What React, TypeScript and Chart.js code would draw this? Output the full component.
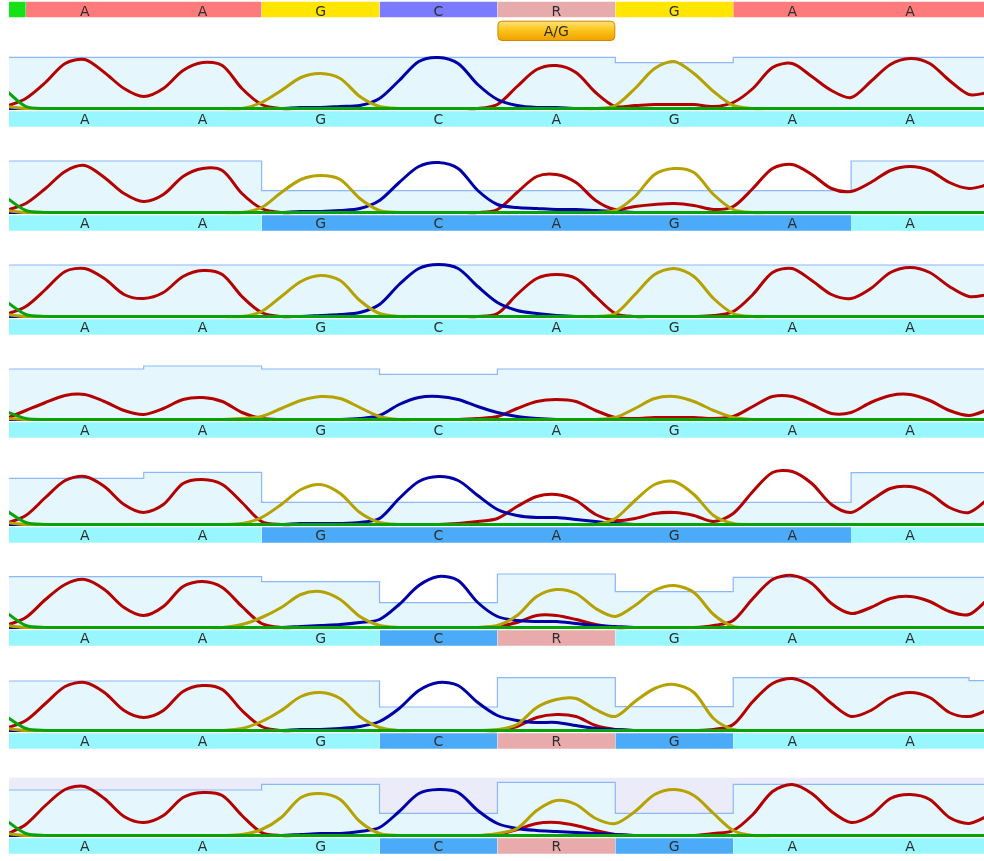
import React, { useEffect, useRef } from 'react';
import { Chart, registerables } from 'chart.js';

Chart.register(...registerables);

// ---------------- axis set-up (base units: base i centred on i) ----------------
const X_MIN = -0.6425;
const X_MAX = 7.627;
const SAMPLE_START = -4 / 6; // first trace sample
const SAMPLE_STEP = 1 / 6; // 6 trace samples per base
const FIRST_BASE = -1; // partial base at the left edge

// ---------------- header (consensus) ----------------
const headerCalls = ['', 'A', 'A', 'G', 'C', 'R', 'G', 'A', 'A', ''];
const headerColors = ['#16e016', '#ff7b7b', '#ff7b7b', '#ffe500', '#7b7bff', '#e8abab', '#ffe500', '#ff7b7b', '#ff7b7b', '#ff7b7b'];
const variantBase = 4;
const variantLabel = 'A/G';

// ---------------- per-track base calls / marks / quality ----------------
const callsPlain = ['', 'A', 'A', 'G', 'C', 'A', 'G', 'A', 'A', ''];
const callsHet = ['', 'A', 'A', 'G', 'C', 'R', 'G', 'A', 'A', ''];

const t1Marks = ['c', 'c', 'c', 'c', 'c', 'c', 'c', 'c', 'c', 'c'];
const t2Marks = ['c', 'c', 'c', 'b', 'b', 'b', 'b', 'b', 'c', 'c'];
const t3Marks = ['c', 'c', 'c', 'c', 'c', 'c', 'c', 'c', 'c', 'c'];
const t4Marks = ['c', 'c', 'c', 'c', 'c', 'c', 'c', 'c', 'c', 'c'];
const t5Marks = ['c', 'c', 'c', 'b', 'b', 'b', 'b', 'b', 'c', 'c'];
const t6Marks = ['c', 'c', 'c', 'c', 'b', 'p', 'c', 'c', 'c', 'c'];
const t7Marks = ['c', 'c', 'c', 'c', 'b', 'p', 'b', 'c', 'c', 'c'];
const t8Marks = ['c', 'c', 'c', 'c', 'b', 'p', 'b', 'c', 'c', 'c'];

const t1Quality = [51.2, 51.2, 51.2, 51.2, 51.2, 51.2, 45.8, 51.2, 51.2, 51.2];
const t2Quality = [51.5, 51.5, 51.5, 21.8, 21.8, 21.8, 21.8, 21.8, 51.5, 51.5];
const t3Quality = [51.5, 51.5, 51.5, 51.5, 51.5, 51.5, 51.5, 51.5, 51.5, 51.5];
const t4Quality = [50.5, 50.5, 53.5, 50.5, 45.2, 50.5, 50.5, 50.5, 50.5, 50.5];
const t5Quality = [46.2, 46.2, 52.2, 22.2, 22.2, 22.2, 22.2, 22.2, 51.8, 51.8];
const t6Quality = [50.8, 50.8, 50.8, 45.8, 24.8, 53.5, 35.8, 50.2, 50.2, 50.2];
const t7Quality = [49.5, 49.5, 49.5, 49.5, 23.5, 52.8, 23.8, 52.8, 52.8, 49.8];
const t8Quality = [45.5, 45.5, 45.5, 51.2, 22.2, 53.2, 22.2, 51.2, 51.2, 51.2];
const t8Shade = 57.8;

// ---------------- trace samples (A red, C blue, G olive, T green) ----------------
const t1A = [2, 10, 26, 45, 49, 36, 20, 12, 20, 38, 46, 43, 20, 4, 0, 0, 0, 0, 0, 0, 0, 0, 0, 0, 0, 4, 22, 39, 43, 36, 16, 2, 3, 4, 4, 4, 2, 6, 20, 41, 45, 32, 18, 11, 27, 44, 50, 45, 28, 14, 16];
const t1C = [0, 0, 0, 0, 0, 0, 0, 0, 0, 0, 0, 0, 0, 0, 0, 1, 1, 2, 3, 10, 28, 47, 51, 45, 24, 9, 3, 1, 1, 0, 0, 0, 0, 0, 0, 0, 0, 0, 0, 0, 0, 0, 0, 0, 0, 0, 0, 0, 0, 0, 0];
const t1G = [2, 0, 0, 0, 0, 0, 0, 0, 0, 0, 0, 0, 0, 6, 18, 31, 35, 30, 12, 2, 0, 0, 0, 0, 0, 0, 0, 0, 0, 0, 0, 3, 20, 40, 47, 35, 17, 3, 0, 0, 0, 0, 0, 0, 0, 0, 0, 0, 0, 0, 0];
const t1T = [18, 2, 0, 0, 0, 0, 0, 0, 0, 0, 0, 0, 0, 0, 0, 0, 0, 0, 0, 0, 0, 0, 0, 0, 0, 0, 0, 0, 0, 0, 0, 0, 0, 0, 0, 0, 0, 0, 0, 0, 0, 0, 0, 0, 0, 0, 0, 0, 0, 0, 0];

const t2A = [2, 9, 24, 41, 47, 35, 19, 11, 18, 36, 44, 42, 19, 4, 0, 0, 0, 0, 0, 0, 0, 0, 0, 0, 0, 3, 20, 36, 38, 30, 12, 3, 6, 8, 9, 7, 3, 6, 24, 44, 48, 38, 24, 21, 30, 42, 46, 42, 30, 24, 28];
const t2C = [0, 0, 0, 0, 0, 0, 0, 0, 0, 0, 0, 0, 0, 0, 0, 1, 1, 2, 4, 12, 30, 46, 50, 44, 22, 8, 5, 4, 3, 3, 2, 1, 0, 0, 0, 0, 0, 0, 0, 0, 0, 0, 0, 0, 0, 0, 0, 0, 0, 0, 0];
const t2G = [2, 0, 0, 0, 0, 0, 0, 0, 0, 0, 0, 0, 0, 5, 20, 33, 37, 33, 14, 2, 0, 0, 0, 0, 0, 0, 0, 0, 0, 0, 0, 2, 16, 38, 44, 40, 18, 3, 0, 0, 0, 0, 0, 0, 0, 0, 0, 0, 0, 0, 0];
const t2T = [15, 2, 0, 0, 0, 0, 0, 0, 0, 0, 0, 0, 0, 0, 0, 0, 0, 0, 0, 0, 0, 0, 0, 0, 0, 0, 0, 0, 0, 0, 0, 0, 0, 0, 0, 0, 0, 0, 0, 0, 0, 0, 0, 0, 0, 0, 0, 0, 0, 0, 0];

const t3A = [2, 10, 27, 45, 48, 38, 22, 18, 24, 40, 46, 42, 20, 4, 0, 0, 0, 0, 0, 0, 0, 0, 0, 0, 0, 3, 22, 38, 42, 38, 20, 3, 0, 0, 0, 0, 1, 5, 22, 44, 48, 36, 22, 18, 28, 44, 49, 44, 30, 20, 22];
const t3C = [0, 0, 0, 0, 0, 0, 0, 0, 0, 0, 0, 0, 0, 0, 0, 0, 1, 2, 4, 12, 32, 48, 52, 48, 30, 14, 6, 3, 1, 0, 0, 0, 0, 0, 0, 0, 0, 0, 0, 0, 0, 0, 0, 0, 0, 0, 0, 0, 0, 0, 0];
const t3G = [2, 0, 0, 0, 0, 0, 0, 0, 0, 0, 0, 0, 0, 5, 20, 35, 41, 36, 16, 3, 0, 0, 0, 0, 0, 0, 0, 0, 0, 0, 0, 3, 22, 42, 48, 40, 18, 3, 0, 0, 0, 0, 0, 0, 0, 0, 0, 0, 0, 0, 0];
const t3T = [15, 2, 0, 0, 0, 0, 0, 0, 0, 0, 0, 0, 0, 0, 0, 0, 0, 0, 0, 0, 0, 0, 0, 0, 0, 0, 0, 0, 0, 0, 0, 0, 0, 0, 0, 0, 0, 0, 0, 0, 0, 0, 0, 0, 0, 0, 0, 0, 0, 0, 0];

const t4A = [1, 9, 17, 24, 25, 18, 9, 5, 11, 20, 22, 18, 7, 1, 0, 0, 0, 0, 0, 0, 0, 0, 0, 0, 1, 3, 11, 18, 20, 18, 9, 2, 1, 2, 2, 2, 1, 3, 13, 23, 23, 15, 6, 7, 17, 24, 25, 19, 9, 4, 10];
const t4C = [0, 0, 0, 0, 0, 0, 0, 0, 0, 0, 0, 0, 0, 0, 0, 0, 0, 0, 1, 4, 15, 22, 23, 20, 13, 7, 3, 1, 0, 0, 0, 0, 0, 0, 0, 0, 0, 0, 0, 0, 0, 0, 0, 0, 0, 0, 0, 0, 0, 0, 0];
const t4G = [1, 0, 0, 0, 0, 0, 0, 0, 0, 0, 0, 0, 1, 3, 11, 19, 23, 21, 12, 3, 0, 0, 0, 0, 0, 0, 0, 0, 0, 0, 0, 2, 11, 21, 23, 18, 9, 2, 0, 0, 0, 0, 0, 0, 0, 0, 0, 0, 0, 0, 0];
const t4T = [8, 1, 0, 0, 0, 0, 0, 0, 0, 0, 0, 0, 0, 0, 0, 0, 0, 0, 0, 0, 0, 0, 0, 0, 0, 0, 0, 0, 0, 0, 0, 0, 0, 0, 0, 0, 0, 0, 0, 0, 0, 0, 0, 0, 0, 0, 0, 0, 0, 0, 0];

const t5A = [1, 9, 27, 44, 48, 38, 20, 12, 20, 41, 45, 40, 22, 3, 0, 0, 0, 0, 0, 0, 0, 0, 0, 1, 3, 6, 18, 28, 30, 24, 10, 4, 6, 11, 12, 9, 3, 11, 33, 52, 53, 41, 20, 12, 24, 36, 38, 31, 17, 12, 26];
const t5C = [0, 0, 0, 0, 0, 0, 0, 0, 0, 0, 0, 0, 0, 0, 0, 1, 1, 1, 2, 6, 26, 43, 48, 44, 29, 15, 9, 7, 7, 5, 3, 1, 0, 0, 0, 0, 0, 0, 0, 0, 0, 0, 0, 0, 0, 0, 0, 0, 0, 0, 0];
const t5G = [2, 0, 0, 0, 0, 0, 0, 0, 0, 0, 0, 0, 1, 7, 20, 35, 40, 31, 12, 2, 0, 0, 0, 0, 0, 0, 0, 0, 0, 0, 0, 6, 24, 40, 43, 30, 9, 1, 0, 0, 0, 0, 0, 0, 0, 0, 0, 0, 0, 0, 0];
const t5T = [14, 2, 0, 0, 0, 0, 0, 0, 0, 0, 0, 0, 0, 0, 0, 0, 0, 0, 0, 0, 0, 0, 0, 0, 0, 0, 0, 0, 0, 0, 0, 0, 0, 0, 0, 0, 0, 0, 0, 0, 0, 0, 0, 0, 0, 0, 0, 0, 0, 0, 0];

const t6A = [2, 10, 28, 43, 48, 38, 20, 12, 21, 41, 46, 40, 21, 4, 0, 0, 0, 0, 0, 0, 0, 0, 0, 0, 0, 1, 5, 12, 12, 8, 3, 0, 0, 0, 0, 0, 2, 7, 29, 48, 52, 44, 24, 14, 20, 29, 31, 26, 16, 13, 29];
const t6C = [0, 0, 0, 0, 0, 0, 0, 0, 0, 0, 0, 0, 0, 0, 0, 1, 2, 3, 5, 8, 23, 42, 51, 47, 25, 11, 7, 6, 6, 4, 2, 1, 0, 0, 0, 0, 0, 0, 0, 0, 0, 0, 0, 0, 0, 0, 0, 0, 0, 0, 0];
const t6G = [2, 0, 0, 0, 0, 0, 0, 0, 0, 0, 0, 0, 3, 10, 20, 33, 36, 28, 11, 2, 0, 0, 0, 0, 0, 2, 12, 31, 38, 34, 19, 11, 22, 37, 42, 35, 13, 1, 0, 0, 0, 0, 0, 0, 0, 0, 0, 0, 0, 0, 0];
const t6T = [15, 2, 0, 0, 0, 0, 0, 0, 0, 0, 0, 0, 0, 0, 0, 0, 0, 0, 0, 0, 0, 0, 0, 0, 0, 0, 0, 0, 0, 0, 0, 0, 0, 0, 0, 0, 0, 0, 0, 0, 0, 0, 0, 0, 0, 0, 0, 0, 0, 0, 0];

const t7A = [2, 10, 27, 44, 48, 38, 20, 13, 20, 39, 45, 41, 20, 4, 0, 0, 0, 0, 0, 0, 0, 0, 0, 0, 0, 0, 4, 13, 16, 14, 5, 1, 0, 0, 0, 0, 1, 6, 29, 47, 52, 44, 27, 14, 20, 33, 38, 33, 18, 14, 21];
const t7C = [0, 0, 0, 0, 0, 0, 0, 0, 0, 0, 0, 0, 0, 0, 0, 1, 1, 2, 4, 9, 22, 40, 48, 45, 28, 15, 10, 8, 8, 5, 2, 1, 0, 0, 0, 0, 0, 0, 0, 0, 0, 0, 0, 0, 0, 0, 0, 0, 0, 0, 0];
const t7G = [2, 0, 0, 0, 0, 0, 0, 0, 0, 0, 0, 0, 2, 9, 20, 34, 38, 32, 14, 3, 0, 0, 0, 0, 0, 1, 6, 23, 31, 32, 21, 14, 29, 42, 46, 38, 12, 1, 0, 0, 0, 0, 0, 0, 0, 0, 0, 0, 0, 0, 0];
const t7T = [14, 2, 0, 0, 0, 0, 0, 0, 0, 0, 0, 0, 0, 0, 0, 0, 0, 0, 0, 0, 0, 0, 0, 0, 0, 0, 0, 0, 0, 0, 0, 0, 0, 0, 0, 0, 0, 0, 0, 0, 0, 0, 0, 0, 0, 0, 0, 0, 0, 0, 0];

const t8A = [1, 11, 30, 46, 49, 37, 19, 13, 20, 38, 43, 40, 20, 3, 0, 0, 0, 0, 0, 0, 0, 0, 0, 0, 0, 1, 6, 12, 13, 10, 5, 1, 0, 0, 0, 0, 2, 5, 21, 44, 51, 42, 24, 13, 20, 37, 41, 36, 18, 12, 20];
const t8C = [0, 0, 0, 0, 0, 0, 0, 0, 0, 0, 0, 0, 0, 0, 0, 1, 2, 2, 4, 8, 24, 42, 46, 43, 25, 12, 7, 5, 4, 3, 2, 1, 0, 0, 0, 0, 0, 0, 0, 0, 0, 0, 0, 0, 0, 0, 0, 0, 0, 0, 0];
const t8G = [2, 0, 0, 0, 0, 0, 0, 0, 0, 0, 0, 0, 1, 6, 18, 38, 42, 36, 14, 2, 0, 0, 0, 0, 0, 2, 7, 25, 35, 31, 17, 12, 24, 41, 46, 40, 22, 5, 0, 0, 0, 0, 0, 0, 0, 0, 0, 0, 0, 0, 0];
const t8T = [15, 2, 0, 0, 0, 0, 0, 0, 0, 0, 0, 0, 0, 0, 0, 0, 0, 0, 0, 0, 0, 0, 0, 0, 0, 0, 0, 0, 0, 0, 0, 0, 0, 0, 0, 0, 0, 0, 0, 0, 0, 0, 0, 0, 0, 0, 0, 0, 0, 0, 0];

type Track = {
  calls: string[]; marks: string[]; quality: number[];
  A: number[]; C: number[]; G: number[]; T: number[]; shade?: number;
};

const tracks: Track[] = [
  { calls: callsPlain, marks: t1Marks, quality: t1Quality, A: t1A, C: t1C, G: t1G, T: t1T },
  { calls: callsPlain, marks: t2Marks, quality: t2Quality, A: t2A, C: t2C, G: t2G, T: t2T },
  { calls: callsPlain, marks: t3Marks, quality: t3Quality, A: t3A, C: t3C, G: t3G, T: t3T },
  { calls: callsPlain, marks: t4Marks, quality: t4Quality, A: t4A, C: t4C, G: t4G, T: t4T },
  { calls: callsPlain, marks: t5Marks, quality: t5Quality, A: t5A, C: t5C, G: t5G, T: t5T },
  { calls: callsHet, marks: t6Marks, quality: t6Quality, A: t6A, C: t6C, G: t6G, T: t6T },
  { calls: callsHet, marks: t7Marks, quality: t7Quality, A: t7A, C: t7C, G: t7G, T: t7T },
  { calls: callsHet, marks: t8Marks, quality: t8Quality, A: t8A, C: t8C, G: t8G, T: t8T, shade: t8Shade },
];

// ---------------- styling / layout ----------------
const CANVAS_LEFT = 9;
const CANVAS_WIDTH = 975;
const TRACK_TOPS = [23, 127, 231, 334, 439, 542, 645, 750];
const TRACK_HEIGHT = 105;
const Y_MIN = -19.5;
const Y_MAX = 85.5;
const HEADER_HEIGHT = 45;

const TRACE_COLORS = { A: '#b30000', C: '#0000a8', G: '#b5a200', T: '#08a308' };
const MARK_COLORS: Record<string, string> = { c: '#98f6fe', b: '#4babf8', p: '#e8aaaa' };
const LABEL_FONT = '14px "DejaVu Sans", sans-serif';
const LABEL_COLOR = '#2e2e2e';

function runs(colors: string[]) {
  const out: { from: number; to: number; color: string }[] = [];
  let start = 0;
  for (let i = 1; i <= colors.length; i++) {
    if (i === colors.length || colors[i] !== colors[start]) {
      out.push({ from: start + FIRST_BASE - 0.5, to: i - 1 + FIRST_BASE + 0.5, color: colors[start] });
      start = i;
    }
  }
  return out;
}

function bandDatasets(colors: string[], edge: number, fillTo: number, order: number) {
  return runs(colors).map((r) => ({
    type: 'line',
    data: [{ x: r.from, y: edge }, { x: r.to, y: edge }],
    fill: { value: fillTo },
    backgroundColor: r.color,
    borderColor: 'transparent',
    borderWidth: 0,
    pointRadius: 0,
    order,
  }));
}

function labelPlugin(calls: string[], baselineValue: number) {
  return {
    id: 'callLabels',
    afterDatasetsDraw(chart: any) {
      const { ctx } = chart;
      const xs = chart.scales.x;
      const ys = chart.scales.y;
      ctx.save();
      ctx.font = LABEL_FONT;
      ctx.fillStyle = LABEL_COLOR;
      ctx.textAlign = 'center';
      ctx.textBaseline = 'alphabetic';
      calls.forEach((c, i) => {
        if (c) ctx.fillText(c, xs.getPixelForValue(i + FIRST_BASE), ys.getPixelForValue(baselineValue));
      });
      ctx.restore();
    },
  };
}

function variantPlugin() {
  return {
    id: 'variantButton',
    afterDatasetsDraw(chart: any) {
      const { ctx } = chart;
      const xs = chart.scales.x;
      const ys = chart.scales.y;
      const l = xs.getPixelForValue(variantBase - 0.5) + 0.5;
      const r = xs.getPixelForValue(variantBase + 0.5) - 0.5;
      const t = ys.getPixelForValue(20.7) + 0.5;
      const b = ys.getPixelForValue(41) - 0.5;
      ctx.save();
      const g = ctx.createLinearGradient(0, t, 0, b);
      g.addColorStop(0, '#ffe27a');
      g.addColorStop(0.45, '#fcc51c');
      g.addColorStop(1, '#efa000');
      ctx.beginPath();
      ctx.roundRect(l, t, r - l, b - t, 4);
      ctx.fillStyle = g;
      ctx.fill();
      ctx.lineWidth = 1;
      ctx.strokeStyle = '#c98a00';
      ctx.stroke();
      ctx.font = LABEL_FONT;
      ctx.fillStyle = LABEL_COLOR;
      ctx.textAlign = 'center';
      ctx.textBaseline = 'alphabetic';
      ctx.fillText(variantLabel, (l + r) / 2, ys.getPixelForValue(36.3));
      ctx.restore();
    },
  };
}

const baseOptions = (yMin: number, yMax: number, reverse: boolean) => ({
  responsive: false,
  animation: false as const,
  devicePixelRatio: 1,
  events: [],
  layout: { padding: 0 },
  plugins: { legend: { display: false }, tooltip: { enabled: false }, title: { display: false } },
  scales: {
    x: { type: 'linear', min: X_MIN, max: X_MAX, display: false, offset: false },
    y: { type: 'linear', min: yMin, max: yMax, display: false, reverse },
  },
});

function headerConfig(): any {
  return {
    type: 'line',
    data: { datasets: bandDatasets(headerColors, 1.7, 17.3, 1) },
    options: baseOptions(0, HEADER_HEIGHT, true),
    plugins: [labelPlugin(headerCalls, 15.6), variantPlugin()],
  };
}

function trackConfig(track: Track): any {
  const pts = (vals: number[]) => vals.map((v, j) => ({ x: SAMPLE_START + j * SAMPLE_STEP, y: v }));
  const trace = (vals: number[], color: string, order: number) => ({
    type: 'line',
    data: pts(vals),
    borderColor: color,
    backgroundColor: color,
    borderWidth: 3,
    pointRadius: 0,
    fill: false,
    tension: 0.3,
    borderJoinStyle: 'round',
    borderCapStyle: 'round',
    order,
  });
  const datasets: any[] = [
    trace(track.T, TRACE_COLORS.T, 0),
    trace(track.G, TRACE_COLORS.G, 1),
    trace(track.C, TRACE_COLORS.C, 2),
    trace(track.A, TRACE_COLORS.A, 3),
    ...bandDatasets(track.marks.map((m) => MARK_COLORS[m]), -2.8, -18.2, 4),
    {
      type: 'line',
      data: track.quality.flatMap((q, k) => [
        { x: k + FIRST_BASE - 0.5, y: q },
        { x: k + FIRST_BASE + 0.5, y: q },
      ]),
      fill: 'origin',
      backgroundColor: '#e5f6fd',
      borderColor: '#8cb8f6',
      borderWidth: 1.2,
      pointRadius: 0,
      tension: 0,
      order: 5,
    },
  ];
  if (track.shade !== undefined) {
    datasets.push({
      type: 'line',
      data: [{ x: X_MIN - 1, y: track.shade }, { x: X_MAX + 1, y: track.shade }],
      fill: 'origin',
      backgroundColor: '#ebebfa',
      borderColor: 'transparent',
      borderWidth: 0,
      pointRadius: 0,
      order: 6,
    });
  }
  return {
    type: 'line',
    data: { datasets },
    options: baseOptions(Y_MIN, Y_MAX, false),
    plugins: [labelPlugin(track.calls, -15.5)],
  };
}

function ChartCanvas({ top, height, makeConfig }: { top: number; height: number; makeConfig: () => any }) {
  const ref = useRef<HTMLCanvasElement>(null);
  useEffect(() => {
    if (!ref.current) return;
    const chart = new Chart(ref.current, makeConfig());
    return () => chart.destroy();
  }, []);
  return (
    <canvas
      ref={ref}
      width={CANVAS_WIDTH}
      height={height}
      style={{ position: 'absolute', left: CANVAS_LEFT, top, width: CANVAS_WIDTH, height }}
    />
  );
}

export default function App() {
  return (
    <div
      style={{
        position: 'fixed',
        left: 0,
        top: 0,
        width: 984,
        height: 861,
        overflow: 'hidden',
        background: '#ffffff',
      }}
    >
      <ChartCanvas top={0} height={HEADER_HEIGHT} makeConfig={headerConfig} />
      {tracks.map((t, i) => (
        <ChartCanvas key={i} top={TRACK_TOPS[i]} height={TRACK_HEIGHT} makeConfig={() => trackConfig(t)} />
      ))}
    </div>
  );
}
